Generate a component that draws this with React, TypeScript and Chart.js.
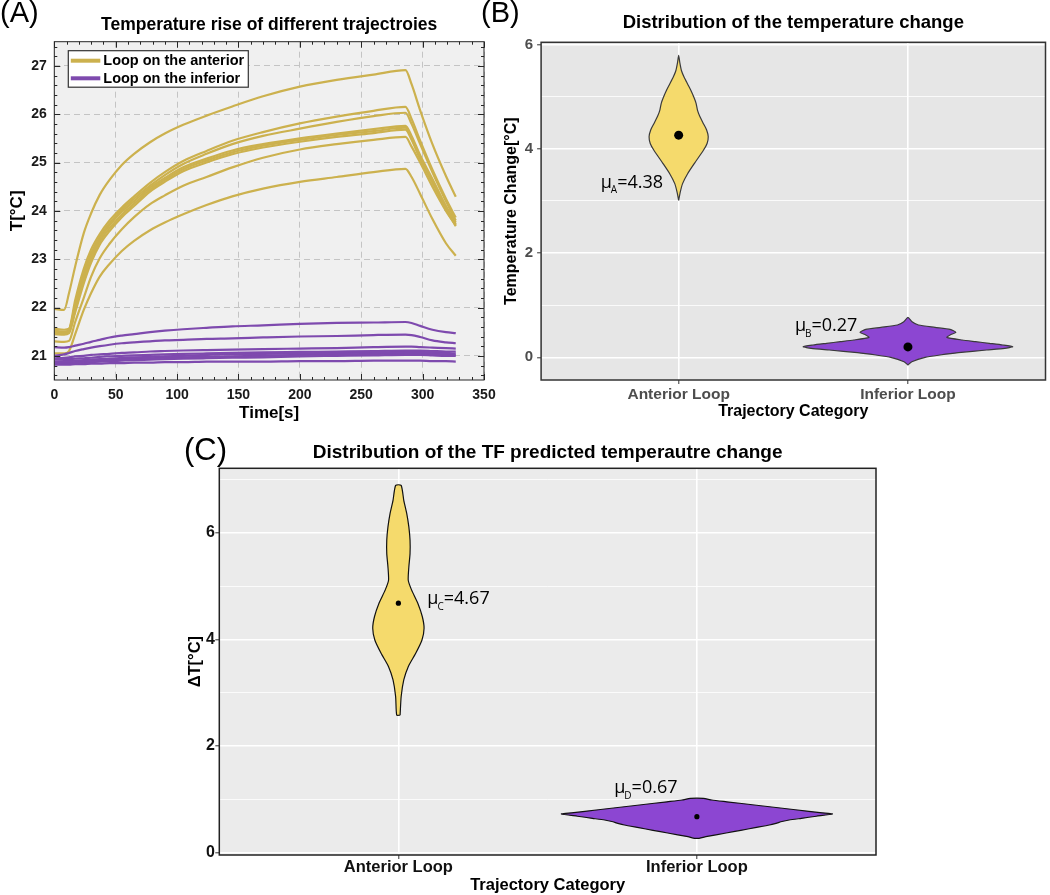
import React, { useEffect, useRef } from 'react';
import { Chart, registerables } from 'chart.js';

Chart.register(...registerables);

const SANS = '"Liberation Sans", Arial, Helvetica, sans-serif';
const MU_FONT = '"Open Sans", "Noto Sans", "DejaVu Sans", sans-serif';

// ---------------- Panel A : temperature curves ----------------
const TIME_S = [0, 8, 12, 17, 24, 30, 37, 45, 55, 65, 78, 90, 105, 124, 145, 170, 200, 230, 260, 286, 291, 298, 308, 319, 327];

const ANT_RUN_1 = [21.97, 21.95, 22.3, 22.85, 23.54, 23.95, 24.33, 24.64, 24.95, 25.18, 25.42, 25.6, 25.78, 25.97, 26.16, 26.37, 26.57, 26.71, 26.82, 26.91, 26.62, 26.08, 25.38, 24.72, 24.29];
const ANT_RUN_2 = [21.52, 21.5, 21.55, 22.15, 22.8, 23.2, 23.52, 23.8, 24.07, 24.3, 24.58, 24.8, 25.03, 25.24, 25.45, 25.63, 25.81, 25.95, 26.07, 26.15, 25.9, 25.45, 24.85, 24.25, 23.86];
const ANT_RUN_3 = [21.48, 21.46, 21.5, 22.05, 22.72, 23.12, 23.46, 23.74, 24.02, 24.25, 24.52, 24.74, 24.97, 25.18, 25.38, 25.55, 25.7, 25.84, 25.96, 26.03, 25.8, 25.38, 24.8, 24.2, 23.8];
const ANT_RUN_4 = [21.56, 21.54, 21.56, 22.05, 22.68, 23.08, 23.42, 23.7, 23.98, 24.2, 24.48, 24.68, 24.9, 25.08, 25.25, 25.38, 25.5, 25.6, 25.69, 25.76, 25.55, 25.15, 24.66, 24.1, 23.76];
const ANT_RUN_5 = [21.45, 21.44, 21.47, 21.95, 22.58, 23.0, 23.36, 23.64, 23.92, 24.15, 24.44, 24.64, 24.86, 25.04, 25.21, 25.35, 25.47, 25.57, 25.65, 25.72, 25.5, 25.1, 24.62, 24.07, 23.72];
const ANT_RUN_6 = [21.5, 21.49, 21.5, 21.9, 22.5, 22.93, 23.3, 23.58, 23.87, 24.1, 24.4, 24.6, 24.82, 25.0, 25.17, 25.31, 25.43, 25.53, 25.61, 25.68, 25.47, 25.07, 24.58, 24.03, 23.68];
const ANT_RUN_7 = [21.3, 21.29, 21.31, 21.7, 22.2, 22.64, 23.02, 23.32, 23.62, 23.87, 24.14, 24.32, 24.52, 24.7, 24.9, 25.1, 25.27, 25.38, 25.47, 25.53, 25.33, 25.0, 24.5, 24.0, 23.7];
const ANT_RUN_8 = [21.05, 21.05, 21.1, 21.45, 21.95, 22.3, 22.64, 22.9, 23.17, 23.38, 23.6, 23.76, 23.93, 24.12, 24.3, 24.46, 24.6, 24.7, 24.8, 24.87, 24.7, 24.35, 23.83, 23.33, 23.07];
const ANTERIOR_RUNS = [ANT_RUN_1, ANT_RUN_2, ANT_RUN_3, ANT_RUN_4, ANT_RUN_5, ANT_RUN_6, ANT_RUN_7, ANT_RUN_8];

const INF_RUN_1 = [21.18, 21.17, 21.18, 21.21, 21.25, 21.29, 21.33, 21.38, 21.42, 21.45, 21.49, 21.52, 21.55, 21.58, 21.61, 21.63, 21.66, 21.68, 21.69, 21.7, 21.68, 21.62, 21.54, 21.49, 21.47];
const INF_RUN_2 = [21.0, 21.03, 21.06, 21.1, 21.14, 21.17, 21.2, 21.23, 21.26, 21.28, 21.3, 21.32, 21.33, 21.35, 21.36, 21.38, 21.4, 21.41, 21.43, 21.44, 21.43, 21.39, 21.32, 21.28, 21.26];
const INF_RUN_3 = [20.95, 20.96, 20.97, 20.99, 21.0, 21.02, 21.03, 21.04, 21.06, 21.07, 21.09, 21.1, 21.11, 21.12, 21.13, 21.14, 21.15, 21.16, 21.18, 21.19, 21.19, 21.18, 21.17, 21.16, 21.15];
const INF_RUN_4 = [20.92, 20.93, 20.93, 20.94, 20.95, 20.96, 20.98, 20.99, 21.0, 21.01, 21.02, 21.03, 21.04, 21.05, 21.06, 21.07, 21.08, 21.09, 21.1, 21.11, 21.11, 21.11, 21.1, 21.09, 21.09];
const INF_RUN_5 = [20.88, 20.89, 20.89, 20.9, 20.91, 20.92, 20.93, 20.94, 20.96, 20.97, 20.98, 20.99, 21.0, 21.02, 21.03, 21.04, 21.05, 21.06, 21.07, 21.08, 21.08, 21.08, 21.07, 21.06, 21.05];
const INF_RUN_6 = [20.86, 20.86, 20.86, 20.87, 20.88, 20.89, 20.9, 20.91, 20.93, 20.94, 20.95, 20.96, 20.97, 20.98, 20.99, 21.0, 21.02, 21.03, 21.04, 21.05, 21.05, 21.05, 21.04, 21.03, 21.02];
const INF_RUN_7 = [20.83, 20.84, 20.84, 20.85, 20.86, 20.87, 20.88, 20.89, 20.9, 20.91, 20.92, 20.93, 20.94, 20.95, 20.96, 20.97, 20.99, 21.0, 21.01, 21.02, 21.02, 21.02, 21.01, 21.0, 21.0];
const INF_RUN_8 = [20.82, 20.82, 20.82, 20.83, 20.83, 20.84, 20.84, 20.85, 20.85, 20.86, 20.86, 20.87, 20.87, 20.88, 20.88, 20.88, 20.89, 20.89, 20.9, 20.9, 20.9, 20.9, 20.89, 20.89, 20.88];
const INFERIOR_RUNS = [INF_RUN_1, INF_RUN_2, INF_RUN_3, INF_RUN_4, INF_RUN_5, INF_RUN_6, INF_RUN_7, INF_RUN_8];

const A_X_TICKS = [0, 50, 100, 150, 200, 250, 300, 350];
const A_Y_TICKS = [21, 22, 23, 24, 25, 26, 27];
const A_LEGEND = ['Loop on the anterior', 'Loop on the inferior'];
const A_COLORS = ['#CCB14E', '#7E4AAE'];

// ---------------- Panel B : measured distribution ----------------
const CATEGORIES = ['Anterior Loop', 'Inferior Loop'];
const B_ANT_LEVELS = [3.01, 3.15, 3.33, 3.52, 3.72, 3.97, 4.1, 4.23, 4.36, 4.48, 4.62, 4.74, 4.87, 4.99, 5.12, 5.24, 5.37, 5.5, 5.65, 5.79];
const B_ANT_WIDTHS = [0, 0.006, 0.017, 0.039, 0.069, 0.108, 0.124, 0.129, 0.122, 0.108, 0.092, 0.082, 0.076, 0.066, 0.053, 0.039, 0.024, 0.012, 0.005, 0];
const B_INF_LEVELS = [-0.148, -0.084, 0.0, 0.044, 0.089, 0.14, 0.172, 0.204, 0.236, 0.268, 0.3, 0.332, 0.383, 0.428, 0.479, 0.536, 0.574, 0.619, 0.683, 0.766];
const B_INF_WIDTHS = [0, 0.017, 0.075, 0.14, 0.22, 0.343, 0.422, 0.457, 0.414, 0.355, 0.295, 0.236, 0.17, 0.184, 0.209, 0.184, 0.118, 0.046, 0.018, 0];
const B_MEANS = [4.26, 0.2];
const B_MU_NAMES = ['A', 'B'];
const B_MU_VALUES = ['4.38', '0.27'];
const B_MU_X = [0.66, 1.507];
const B_MU_Y = [3.25, 0.504];
const B_Y_GRID = [0, 1, 2, 3, 4, 5, 6];
const B_Y_LABELED = [0, 2, 4, 6];

// ---------------- Panel C : TF predicted distribution ----------------
const C_ANT_LEVELS = [2.58, 2.93, 3.24, 3.49, 3.74, 3.99, 4.21, 4.43, 4.68, 4.93, 5.11, 5.36, 5.61, 5.86, 6.11, 6.36, 6.61, 6.89];
const C_ANT_WIDTHS = [0.0057, 0.0093, 0.018, 0.033, 0.058, 0.079, 0.086, 0.08, 0.065, 0.044, 0.033, 0.035, 0.039, 0.039, 0.035, 0.028, 0.018, 0.0093];
const C_INF_LEVELS = [0.27, 0.3, 0.37, 0.42, 0.47, 0.519, 0.551, 0.585, 0.613, 0.645, 0.684, 0.726, 0.748, 0.806, 0.89, 0.955, 0.988, 1.02];
const C_INF_WIDTHS = [0.008, 0.03, 0.098, 0.147, 0.195, 0.243, 0.265, 0.285, 0.309, 0.35, 0.4, 0.454, 0.42, 0.33, 0.2, 0.1, 0.05, 0.022];
const C_MEANS = [4.68, 0.675];
const C_MU_NAMES = ['C', 'D'];
const C_MU_VALUES = ['4.67', '0.67'];
const C_MU_X = [1.097, 1.723];
const C_MU_Y = [4.66, 1.114];
const C_Y_GRID = [0, 1, 2, 3, 4, 5, 6, 7];
const C_Y_LABELED = [0, 2, 4, 6];

const VIOLIN_FILLS = ['#F5DA6C', '#8C46D2'];

function violinOutline(center: number, levels: number[], widths: number[]) {
  const pts: { x: number; y: number }[] = [];
  for (let i = 0; i < levels.length; i++) pts.push({ x: center + widths[i], y: levels[i] });
  for (let i = levels.length - 1; i >= 0; i--) {
    if (widths[i] > 0) pts.push({ x: center - widths[i], y: levels[i] });
  }
  pts.push({ ...pts[0] });
  return pts;
}

function panelPlugin(o: any) {
  return {
    id: 'panelDeco',
    beforeDraw(chart: any) {
      const { ctx, chartArea: a } = chart;
      ctx.save();
      ctx.fillStyle = o.bg;
      ctx.fillRect(a.left, a.top, a.right - a.left, a.bottom - a.top);
      ctx.restore();
    },
    afterDraw(chart: any) {
      const { ctx, chartArea: a } = chart;
      ctx.save();
      ctx.strokeStyle = o.border;
      ctx.lineWidth = o.borderWidth;
      ctx.strokeRect(a.left, a.top, a.right - a.left, a.bottom - a.top);
      ctx.fillStyle = '#000';
      ctx.font = `${o.labelSize}px ${SANS}`;
      ctx.textAlign = 'left';
      ctx.textBaseline = 'alphabetic';
      ctx.fillText(o.label, o.labelX, o.labelY);
      ctx.restore();
    },
  };
}

const matlabDeco = {
  id: 'matlabDeco',
  afterDraw(chart: any) {
    const { ctx, chartArea: a, scales } = chart;
    const xs = scales.x;
    const ys = scales.y;
    ctx.save();
    ctx.strokeStyle = '#262626';
    ctx.lineWidth = 1;
    ctx.beginPath();
    for (let k = 0; k <= 35; k++) {
      const v = k * 10;
      const px = Math.round(xs.getPixelForValue(v)) + 0.5;
      const len = k % 5 === 0 ? 6 : 3;
      ctx.moveTo(px, a.top); ctx.lineTo(px, a.top + len);
      ctx.moveTo(px, a.bottom); ctx.lineTo(px, a.bottom - len);
    }
    for (let k = 103; k <= 137; k++) {
      const v = k / 5;
      const py = Math.round(ys.getPixelForValue(v)) + 0.5;
      const len = k % 5 === 0 ? 6 : 3;
      ctx.moveTo(a.left, py); ctx.lineTo(a.left + len, py);
      ctx.moveTo(a.right, py); ctx.lineTo(a.right - len, py);
    }
    ctx.stroke();

    // legend box
    const bx = a.left + 14;
    const by = a.top + 9;
    const bw = 180;
    const bh = 36.5;
    ctx.fillStyle = '#ffffff';
    ctx.fillRect(bx, by, bw, bh);
    ctx.strokeStyle = '#333333';
    ctx.lineWidth = 1.2;
    ctx.strokeRect(bx, by, bw, bh);
    ctx.font = `bold 14.5px ${SANS}`;
    ctx.textBaseline = 'middle';
    ctx.textAlign = 'left';
    A_LEGEND.forEach((lab, i) => {
      const yy = by + 10 + i * 17.6;
      ctx.strokeStyle = A_COLORS[i];
      ctx.lineWidth = 4;
      ctx.beginPath();
      ctx.moveTo(bx + 2.5, yy);
      ctx.lineTo(bx + 32, yy);
      ctx.stroke();
      ctx.fillStyle = '#000';
      ctx.fillText(lab, bx + 35, yy + 0.5);
    });
    ctx.restore();
  },
};

function muPlugin(names: string[], values: string[], xs: number[], ys: number[], size: number, sub: number) {
  return {
    id: 'muLabels',
    afterDatasetsDraw(chart: any) {
      const { ctx, scales } = chart;
      ctx.save();
      ctx.fillStyle = '#000';
      ctx.textAlign = 'left';
      ctx.textBaseline = 'alphabetic';
      names.forEach((n, i) => {
        let px = scales.x.getPixelForValue(xs[i]);
        const py = scales.y.getPixelForValue(ys[i]);
        ctx.font = `${size}px ${MU_FONT}`;
        ctx.fillText('\u03bc', px, py);
        px += ctx.measureText('\u03bc').width - 1;
        ctx.font = `${sub}px ${MU_FONT}`;
        ctx.fillText(n, px, py + sub * 0.55);
        px += ctx.measureText(n).width;
        ctx.font = `${size}px ${MU_FONT}`;
        ctx.fillText('=' + values[i], px, py);
      });
      ctx.restore();
    },
  };
}

function makeA(): any {
  const datasets: any[] = [];
  INFERIOR_RUNS.forEach((run) => {
    datasets.push({
      label: A_LEGEND[1],
      data: TIME_S.map((t, i) => ({ x: t, y: run[i] })),
      borderColor: A_COLORS[1],
      borderWidth: 2.2,
      pointRadius: 0,
      fill: false,
      cubicInterpolationMode: 'monotone',
    });
  });
  ANTERIOR_RUNS.forEach((run) => {
    datasets.push({
      label: A_LEGEND[0],
      data: TIME_S.map((t, i) => ({ x: t, y: run[i] })),
      borderColor: A_COLORS[0],
      borderWidth: 2.2,
      pointRadius: 0,
      fill: false,
      cubicInterpolationMode: 'monotone',
    });
  });
  const tickFont = { family: SANS, size: 14, weight: 'bold' };
  return {
    type: 'line',
    data: { datasets },
    options: {
      animation: false,
      responsive: false,
      events: [],
      layout: { padding: { left: 0, right: 26, top: 0, bottom: 0 } },
      plugins: {
        legend: { display: false },
        tooltip: { enabled: false },
        title: {
          display: true,
          fullSize: false,
          text: 'Temperature rise of different trajectroies',
          color: '#000',
          font: { family: SANS, size: 17.5, weight: 'bold', lineHeight: 1.2 },
          padding: { top: 14.4, bottom: 6.3 },
        },
      },
      scales: {
        x: {
          type: 'linear',
          min: 0,
          max: 350,
          afterBuildTicks: (s: any) => { s.ticks = A_X_TICKS.map((v) => ({ value: v })); },
          afterFit: (s: any) => { s.height = 42; },
          grid: { color: '#c4c4c4', lineWidth: 1, drawTicks: false },
          border: { display: false, dash: [6, 4] },
          ticks: { color: '#1a1a1a', font: tickFont, padding: 6.6, maxRotation: 0, autoSkip: false },
          title: { display: true, text: 'Time[s]', color: '#000', font: { family: SANS, size: 17, weight: 'bold', lineHeight: 1 }, padding: { top: 0, bottom: 0.5 } },
        },
        y: {
          type: 'linear',
          min: 20.5,
          max: 27.5,
          afterBuildTicks: (s: any) => { s.ticks = A_Y_TICKS.map((v) => ({ value: v })); },
          afterFit: (s: any) => { s.width = 54.3; },
          grid: { color: '#c4c4c4', lineWidth: 1, drawTicks: false },
          border: { display: false, dash: [6, 4] },
          ticks: { color: '#1a1a1a', font: tickFont, padding: 7.6 },
          title: { display: true, text: 'T[°C]', color: '#000', font: { family: SANS, size: 17, weight: 'bold', lineHeight: 1 }, padding: { top: 8.5, bottom: 0 } },
        },
      },
    },
    plugins: [
      panelPlugin({ bg: '#f0f0f0', border: '#262626', borderWidth: 1, label: '(A)', labelX: 0, labelY: 22, labelSize: 29 }),
      matlabDeco,
    ],
  };
}

function makeViolin(p: any): any {
  const gridW = (vals: number[]) => (c: any) => (vals.includes(c.tick.value) ? 1.6 : 0.8);
  const tickC = (vals: number[]) => (c: any) => (vals.includes(c.tick.value) ? '#333333' : 'rgba(0,0,0,0)');
  return {
    type: 'line',
    data: {
      datasets: [
        {
          type: 'scatter',
          label: 'mean',
          data: p.means.map((m: number, i: number) => ({ x: i + 1, y: m })),
          pointRadius: p.dotR,
          pointBackgroundColor: '#000',
          pointBorderWidth: 0,
          showLine: false,
        },
        {
          label: CATEGORIES[0],
          data: violinOutline(1, p.antLevels, p.antWidths),
          borderColor: p.outline,
          borderWidth: 1.2,
          backgroundColor: VIOLIN_FILLS[0],
          fill: 'shape',
          pointRadius: 0,
          tension: 0.2,
        },
        {
          label: CATEGORIES[1],
          data: violinOutline(2, p.infLevels, p.infWidths),
          borderColor: p.outline,
          borderWidth: 1.2,
          backgroundColor: VIOLIN_FILLS[1],
          fill: 'shape',
          pointRadius: 0,
          tension: 0.2,
        },
      ],
    },
    options: {
      animation: false,
      responsive: false,
      events: [],
      layout: { padding: { left: 0, right: p.padRight, top: 0, bottom: 0 } },
      plugins: {
        legend: { display: false },
        tooltip: { enabled: false },
        title: {
          display: true,
          fullSize: false,
          text: p.title,
          color: '#000',
          font: { family: SANS, size: p.titleSize, weight: 'bold', lineHeight: 1.2 },
          padding: { top: p.titlePadTop, bottom: p.titlePadBottom },
        },
      },
      scales: {
        x: {
          type: 'linear',
          min: 0.4,
          max: 2.6,
          afterBuildTicks: (s: any) => { s.ticks = CATEGORIES.map((_, i) => ({ value: i + 1 })); },
          afterFit: (s: any) => { s.height = p.xAxisH; },
          grid: { color: '#ffffff', lineWidth: 1.6, tickColor: '#333333', tickLength: 4, tickWidth: 1 },
          border: { display: false },
          ticks: {
            callback: (v: number) => CATEGORIES[Math.round(v) - 1] ?? '',
            color: p.tickColor,
            font: { family: SANS, size: p.xTickSize, weight: 'bold', lineHeight: 1 },
            padding: p.xTickPad,
            maxRotation: 0,
            autoSkip: false,
          },
          title: { display: true, text: 'Trajectory Category', color: '#000', font: { family: SANS, size: p.xTitleSize, weight: 'bold', lineHeight: 1 }, padding: { top: 0, bottom: p.xTitlePadBottom } },
        },
        y: {
          type: 'linear',
          min: p.yMin,
          max: p.yMax,
          afterBuildTicks: (s: any) => { s.ticks = p.yGrid.map((v: number) => ({ value: v })); },
          afterFit: (s: any) => { s.width = p.yAxisW; },
          grid: { color: '#ffffff', lineWidth: gridW(p.yLabeled), tickColor: tickC(p.yLabeled), tickLength: 4, tickWidth: 1 },
          border: { display: false },
          ticks: {
            callback: (v: number) => (p.yLabeled.includes(v) ? String(v) : ''),
            color: p.tickColor,
            font: { family: SANS, size: p.yTickSize, weight: 'bold' },
            padding: p.yTickPad,
            autoSkip: false,
          },
          title: { display: true, text: p.yTitle, color: '#000', font: { family: SANS, size: p.yTitleSize, weight: 'bold', lineHeight: 1 }, padding: { top: p.yTitlePadTop, bottom: 0 } },
        },
      },
    },
    plugins: [
      panelPlugin({ bg: p.bg, border: p.border, borderWidth: 1.5, label: p.label, labelX: p.labelX, labelY: p.labelY, labelSize: p.labelSize }),
      muPlugin(p.muNames, p.muValues, p.muX, p.muY, p.muSize, p.muSub),
    ],
  };
}

function makeB(): any {
  return makeViolin({
    title: 'Distribution of the temperature change',
    titleSize: 18.5, titlePadTop: 12.2, titlePadBottom: 7.9,
    padRight: 1.1,
    antLevels: B_ANT_LEVELS, antWidths: B_ANT_WIDTHS, infLevels: B_INF_LEVELS, infWidths: B_INF_WIDTHS,
    means: B_MEANS, dotR: 4.5, outline: '#3a3a3a',
    xAxisH: 42, tickColor: '#4d4d4d', xTickSize: 15.5, xTickPad: 3.25, xTitleSize: 16, xTitlePadBottom: 2,
    yMin: -0.435, yMax: 6.04, yGrid: B_Y_GRID, yLabeled: B_Y_LABELED, yAxisW: 61.1,
    yTickSize: 15, yTickPad: 4, yTitle: 'Temperature Change[°C]', yTitleSize: 16, yTitlePadTop: 23.5,
    bg: '#e6e6e6', border: '#333333', label: '(B)', labelX: 1, labelY: 22, labelSize: 29,
    muNames: B_MU_NAMES, muValues: B_MU_VALUES, muX: B_MU_X, muY: B_MU_Y, muSize: 18, muSub: 10,
  });
}

function makeC(): any {
  return makeViolin({
    title: 'Distribution of the TF predicted temperautre change',
    titleSize: 19, titlePadTop: 20.9, titlePadBottom: 4.6,
    padRight: 1.3,
    antLevels: C_ANT_LEVELS, antWidths: C_ANT_WIDTHS, infLevels: C_INF_LEVELS, infWidths: C_INF_WIDTHS,
    means: C_MEANS, dotR: 2.6, outline: '#111111',
    xAxisH: 40, tickColor: '#111111', xTickSize: 16.5, xTickPad: 0, xTitleSize: 16.5, xTitlePadBottom: 1.75,
    yMin: -0.043, yMax: 7.21, yGrid: C_Y_GRID, yLabeled: C_Y_LABELED, yAxisW: 39.3,
    yTickSize: 16, yTickPad: 0.5, yTitle: 'ΔT[°C]', yTitleSize: 16.5, yTitlePadTop: 7.35,
    bg: '#ebebeb', border: '#222222', label: '(C)', labelX: 4, labelY: 40, labelSize: 31,
    muNames: C_MU_NAMES, muValues: C_MU_VALUES, muX: C_MU_X, muY: C_MU_Y, muSize: 18, muSub: 10,
  });
}

function ChartCanvas({ make, left, top, width, height }: any) {
  const ref = useRef<HTMLCanvasElement | null>(null);
  useEffect(() => {
    if (!ref.current) return;
    const chart = new Chart(ref.current, make());
    return () => chart.destroy();
  }, [make]);
  return (
    <canvas
      ref={ref}
      width={width}
      height={height}
      style={{ position: 'absolute', left, top, width, height }}
    />
  );
}

export default function App() {
  return (
    <div style={{ position: 'absolute', left: 0, top: 0, width: 1050, height: 895, background: '#ffffff', overflow: 'hidden' }}>
      <ChartCanvas make={makeA} left={0} top={0} width={510} height={422} />
      <ChartCanvas make={makeB} left={480} top={0} width={570} height={422} />
      <ChartCanvas make={makeC} left={180} top={420} width={700} height={475} />
    </div>
  );
}
